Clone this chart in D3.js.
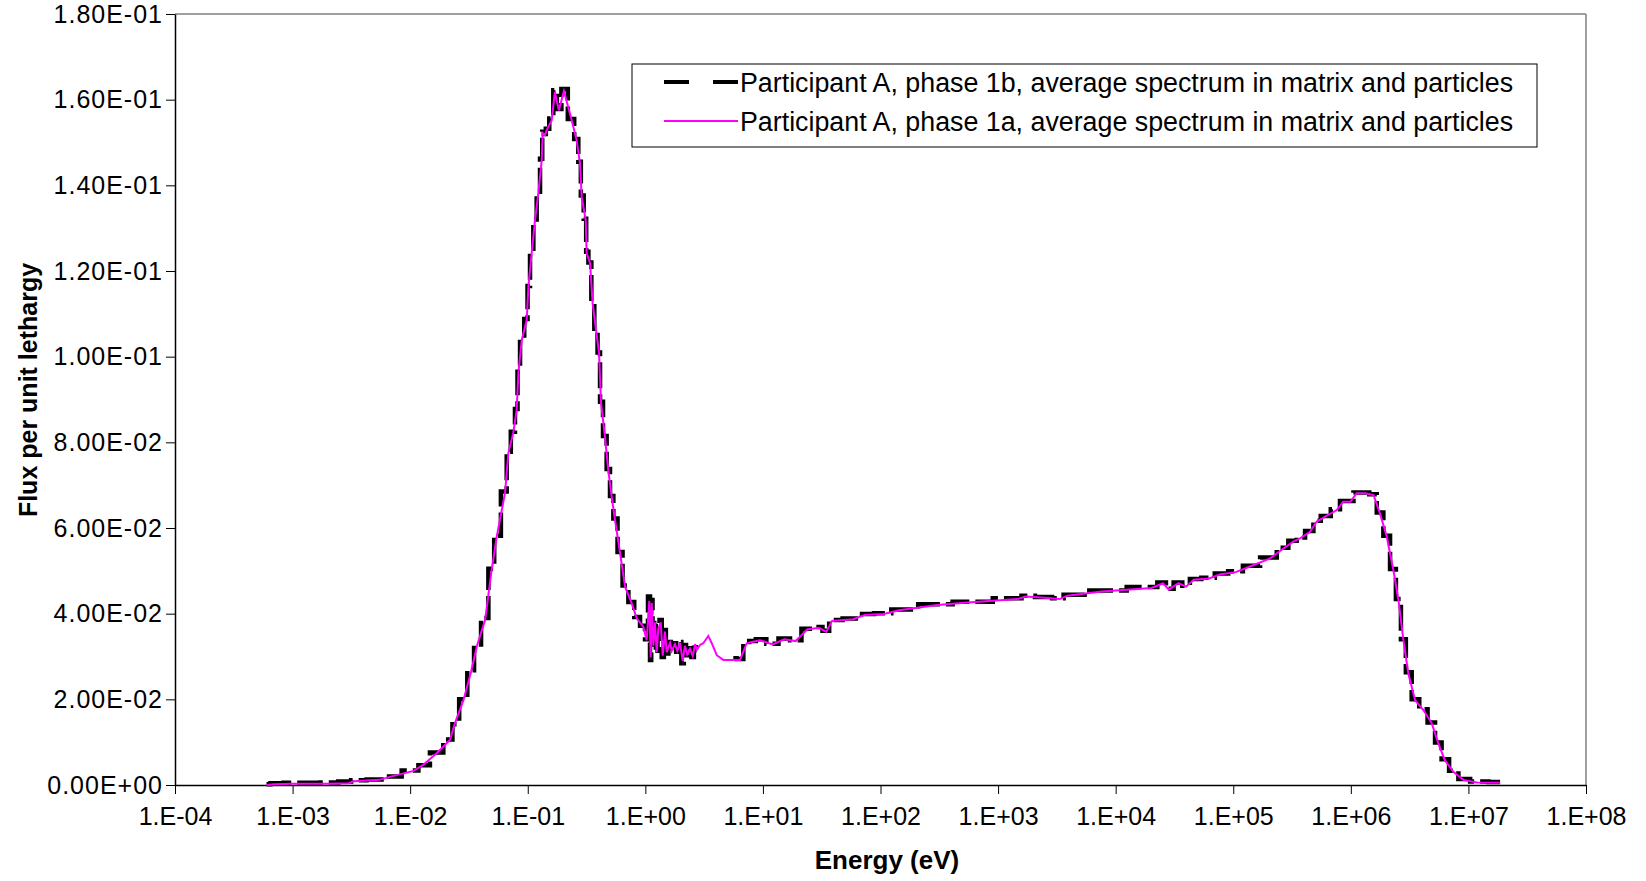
<!DOCTYPE html>
<html>
<head>
<meta charset="utf-8">
<script src="https://cdn.jsdelivr.net/npm/d3@7"></script>
<style>
  body { margin: 0; background: #fff; }
  text { font-family: "Liberation Sans", Arial, sans-serif; }
</style>
</head>
<body>
<div class="chart"></div>
<script>
// energy grid (eV) shared by both series
const energy = [
  6.0e-4, 7.0e-4, 1.0e-3, 1.5e-3, 2.0e-3, 3.0e-3, 3.3e-3, 5.5e-3, 6.7e-3, 0.0107,
  0.0129, 0.0168, 0.0218, 0.0240, 0.0284, 0.0330, 0.0370, 0.0434, 0.0493, 0.0545,
  0.0641, 0.0684, 0.0753, 0.0805, 0.0832, 0.0889, 0.0980, 0.1012, 0.108, 0.1153,
  0.123, 0.1315, 0.134, 0.140, 0.145, 0.160, 0.170, 0.184, 0.203, 0.2366,
  0.2606, 0.278, 0.2877, 0.311, 0.317, 0.339, 0.356, 0.381, 0.404, 0.420,
  0.454, 0.484, 0.518, 0.552, 0.610, 0.672, 0.766, 0.845, 0.962, 1.027,
  1.081, 1.111, 1.133, 1.170, 1.208, 1.250, 1.290, 1.352, 1.406, 1.470,
  1.520, 1.623, 1.675, 1.787, 1.870, 1.970, 2.080, 2.170, 2.270, 2.400,
  2.530, 2.650, 2.740, 2.92, 3.11, 3.43, 3.67, 4.05, 4.6, 5.43,
  5.6, 6.38, 7.28, 8.03, 9.45, 12.1, 15.2, 19.0, 23.8, 29.8,
  34.6, 38.7, 58.5, 73.3, 106, 144, 304, 554, 1466, 1706,
  2480, 3344, 3890, 7620, 20200, 25300, 28300, 34200, 39700, 46100,
  62200, 78000, 105000, 139000, 206000, 267000, 324000, 370000, 450000, 513000,
  600000, 760000, 860000, 990000, 1120000, 1320000, 1560000, 1770000, 2020000, 2300000,
  2540000, 2800000, 3080000, 3520000, 4140000, 4880000, 5550000, 6300000, 7450000, 9060000,
  11800000, 18600000
];

// Participant A, phase 1a (magenta)
const phase1a = [
  0.0000, 0.0002, 0.0003, 0.0003, 0.0003, 0.0004, 0.0009, 0.0012, 0.0019, 0.0033,
  0.0047, 0.0074, 0.0105, 0.0144, 0.0198, 0.0265, 0.0325, 0.0385, 0.0502, 0.0580,
  0.0682, 0.0775, 0.0822, 0.0875, 0.0962, 0.1039, 0.1085, 0.1163, 0.1242, 0.1319,
  0.1382, 0.1459, 0.1522, 0.1517, 0.1529, 0.1552, 0.1618, 0.1575, 0.1620, 0.1552,
  0.1505, 0.1452, 0.1373, 0.1319, 0.1242, 0.1218, 0.1125, 0.1062, 0.1008, 0.0892,
  0.0812, 0.0735, 0.0672, 0.0619, 0.0541, 0.0463, 0.0424, 0.0389, 0.0369, 0.0338,
  0.0430, 0.0298, 0.0425, 0.0325, 0.0380, 0.0310, 0.0365, 0.0380, 0.0302, 0.0358,
  0.0310, 0.0332, 0.0313, 0.0329, 0.0313, 0.0332, 0.0290, 0.0325, 0.0305, 0.0318,
  0.0301, 0.0329, 0.0316, 0.0327, 0.0331, 0.0348, 0.0331, 0.0303, 0.0292, 0.0292,
  0.0292, 0.0292, 0.0331, 0.0334, 0.0338, 0.0328, 0.0340, 0.0336, 0.0363, 0.0367,
  0.0358, 0.0383, 0.0387, 0.0397, 0.0399, 0.0408, 0.0420, 0.0426, 0.0434, 0.0440,
  0.0437, 0.0434, 0.0442, 0.0452, 0.0460, 0.0471, 0.0456, 0.0471, 0.0463, 0.0479,
  0.0482, 0.0492, 0.0497, 0.0510, 0.0529, 0.0552, 0.0568, 0.0576, 0.0591, 0.0615,
  0.0626, 0.0642, 0.0661, 0.0661, 0.0681, 0.0681, 0.0677, 0.0634, 0.0580, 0.0502,
  0.0432, 0.0338, 0.0261, 0.0198, 0.0175, 0.0144, 0.0097, 0.0058, 0.0031, 0.0012,
  0.0006, 0.0005
];

// Participant A, phase 1b (black dashed), no values between 2.7 and 5.6 eV
const phase1b = [
  0.0002, 0.0004, 0.0005, 0.0005, 0.0006, 0.0008, 0.0011, 0.0013, 0.0020, 0.0034,
  0.0046, 0.0076, 0.0106, 0.0142, 0.0200, 0.0268, 0.0328, 0.0390, 0.0505, 0.0582,
  0.0685, 0.0778, 0.0825, 0.0878, 0.0965, 0.1040, 0.1088, 0.1165, 0.1245, 0.1320,
  0.1385, 0.1462, 0.1525, 0.1520, 0.1532, 0.1556, 0.1622, 0.1578, 0.1625, 0.1555,
  0.1508, 0.1455, 0.1376, 0.1322, 0.1245, 0.1220, 0.1128, 0.1065, 0.1010, 0.0895,
  0.0815, 0.0738, 0.0675, 0.0622, 0.0544, 0.0466, 0.0427, 0.0392, 0.0372, 0.0340,
  0.0440, 0.0292, 0.0432, 0.0323, 0.0385, 0.0307, 0.0369, 0.0385, 0.0299, 0.0362,
  0.0307, 0.0334, 0.0311, 0.0331, 0.0311, 0.0334, 0.0284, 0.0327, 0.0303, 0.0319,
  0.0299, 0.0331, 0.0315, null, null, null, null, null, null, null,
  0.0296, 0.0294, 0.0334, 0.0336, 0.0340, 0.0330, 0.0342, 0.0338, 0.0365, 0.0369,
  0.0360, 0.0385, 0.0389, 0.0399, 0.0401, 0.0410, 0.0422, 0.0428, 0.0436, 0.0442,
  0.0439, 0.0436, 0.0444, 0.0454, 0.0462, 0.0473, 0.0458, 0.0473, 0.0465, 0.0481,
  0.0484, 0.0494, 0.0499, 0.0512, 0.0531, 0.0554, 0.0570, 0.0578, 0.0593, 0.0617,
  0.0628, 0.0644, 0.0663, 0.0663, 0.0683, 0.0683, 0.0679, 0.0636, 0.0582, 0.0504,
  0.0434, 0.0340, 0.0263, 0.0200, 0.0177, 0.0146, 0.0099, 0.0060, 0.0033, 0.0014,
  0.0008, 0.0007
];

const xTicks = [1e-4, 1e-3, 1e-2, 1e-1, 1e0, 1e1, 1e2, 1e3, 1e4, 1e5, 1e6, 1e7, 1e8];
const yTicks = [0, 0.02, 0.04, 0.06, 0.08, 0.10, 0.12, 0.14, 0.16, 0.18];
const seriesNames = [
  "Participant A, phase 1b, average spectrum in matrix and particles",
  "Participant A, phase 1a, average spectrum in matrix and particles"
];

const W = 1646, H = 881;
const margin = { top: 14, right: 60, bottom: 96, left: 175 };
const width = W - margin.left - margin.right;
const height = H - margin.top - margin.bottom;

const svg = d3.select(".chart")
  .append("svg")
  .attr("width", W)
  .attr("height", H);

const g = svg.append("g")
  .attr("transform", `translate(${margin.left},${margin.top})`);

const x = d3.scaleLog().domain([1e-4, 1e8]).range([0, width]);
const y = d3.scaleLinear().domain([0, 0.18]).range([height, 0]);

function fmtY(v) {
  if (v === 0) return "0.00E+00";
  const e = Math.floor(Math.log10(v) + 1e-9);
  const m = v / Math.pow(10, e);
  return m.toFixed(2) + "E" + (e < 0 ? "-" : "+") + String(Math.abs(e)).padStart(2, "0");
}
function fmtX(v) {
  const e = Math.round(Math.log10(v));
  return "1.E" + (e < 0 ? "-" : "+") + String(Math.abs(e)).padStart(2, "0");
}

// grey frame on top and right
g.append("line").attr("x1", 0).attr("x2", width).attr("y1", 0).attr("y2", 0)
  .attr("stroke", "#808080").attr("stroke-width", 1.5);
g.append("line").attr("x1", width).attr("x2", width).attr("y1", 0).attr("y2", height)
  .attr("stroke", "#808080").attr("stroke-width", 1.5);

/* axes */
const yAxis = g.append("g")
  .call(d3.axisLeft(y).tickValues(yTicks).tickFormat(fmtY).tickSize(9).tickSizeOuter(0).tickPadding(3));
const xAxis = g.append("g")
  .attr("transform", `translate(0,${height})`)
  .call(d3.axisBottom(x).tickValues(xTicks).tickFormat(fmtX).tickSize(9).tickSizeOuter(0).tickPadding(13));

[yAxis, xAxis].forEach(a => {
  a.selectAll("text").attr("font-size", "25px").attr("fill", "#000")
    .attr("font-family", '"Liberation Sans", Arial, sans-serif');
  a.selectAll("line").attr("stroke", "#000");
  a.select(".domain").attr("stroke", "#000").attr("stroke-width", 1.5);
});
yAxis.selectAll("text").attr("letter-spacing", "1px");

const pts = energy.map((e, i) => ({ e: e, a: phase1a[i], b: phase1b[i] }));

// phase 1b: stepped histogram, thick black long dashes
const lineB = d3.line()
  .defined(d => d.b !== null)
  .x(d => x(d.e))
  .y(d => y(d.b))
  .curve(d3.curveStep);

g.append("path")
  .datum(pts)
  .attr("d", lineB)
  .attr("fill", "none")
  .attr("stroke", "#000")
  .attr("stroke-width", 4.5)
  .attr("stroke-dasharray", "26,6");

// phase 1a: thin magenta line on top
const lineA = d3.line()
  .x(d => x(d.e))
  .y(d => y(d.a));

g.append("path")
  .datum(pts)
  .attr("d", lineA)
  .attr("fill", "none")
  .attr("stroke", "#ff00ff")
  .attr("stroke-width", 2);

/* legend */
const legend = svg.append("g").attr("transform", "translate(632,64)");
legend.append("rect")
  .attr("width", 905).attr("height", 83)
  .attr("fill", "#fff").attr("stroke", "#000").attr("stroke-width", 1);

legend.append("line")
  .attr("x1", 32).attr("x2", 106).attr("y1", 18).attr("y2", 18)
  .attr("stroke", "#000").attr("stroke-width", 4).attr("stroke-dasharray", "25,24");
legend.append("line")
  .attr("x1", 32).attr("x2", 106).attr("y1", 57).attr("y2", 57)
  .attr("stroke", "#ff00ff").attr("stroke-width", 2);

legend.selectAll(".ltext")
  .data(seriesNames)
  .enter()
  .append("text")
  .attr("class", "ltext")
  .attr("x", 108)
  .attr("y", (d, i) => 18 + i * 39)
  .attr("dy", "0.36em")
  .attr("font-size", "26.8px")
  .attr("fill", "#000")
  .text(d => d);

/* axis titles */
svg.append("text")
  .attr("x", 887)
  .attr("y", 869)
  .attr("text-anchor", "middle")
  .attr("font-size", "26px")
  .attr("font-weight", "bold")
  .text("Energy (eV)");

svg.append("text")
  .attr("transform", "translate(37,390) rotate(-90)")
  .attr("text-anchor", "middle")
  .attr("font-size", "25px")
  .attr("font-weight", "bold")
  .text("Flux per unit lethargy");
</script>
</body>
</html>
